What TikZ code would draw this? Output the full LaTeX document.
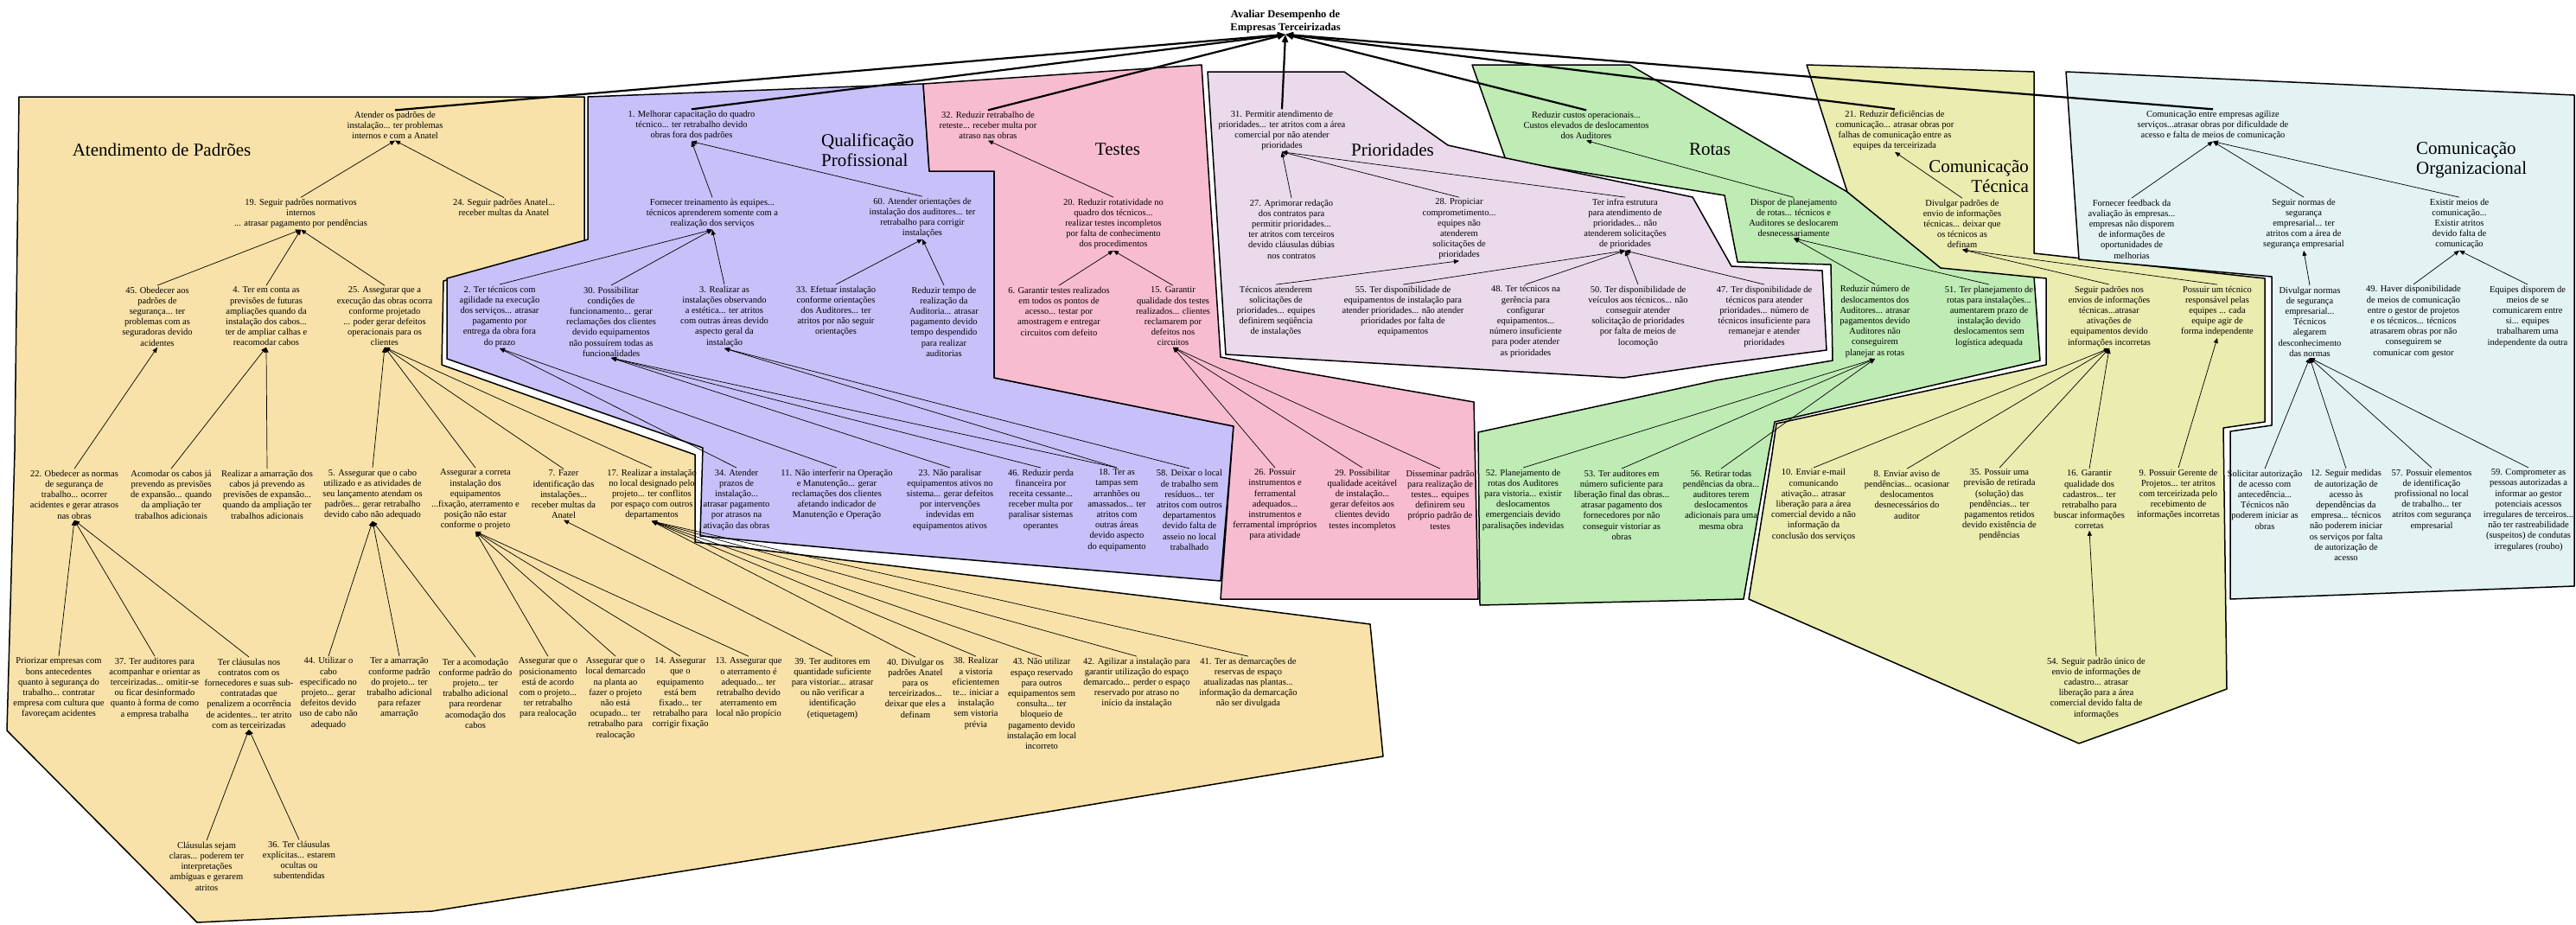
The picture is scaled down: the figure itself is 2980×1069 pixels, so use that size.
\documentclass[tikz,border=0pt]{standalone}
\usepackage{fontspec}
\setmainfont{Liberation Serif}
\usetikzlibrary{arrows.meta}

\definecolor{tanfill}{RGB}{248,226,169}
\definecolor{lavfill}{RGB}{200,192,248}
\definecolor{pinkfill}{RGB}{248,188,208}
\definecolor{priofill}{RGB}{234,218,236}
\definecolor{greenfill}{RGB}{191,235,181}
\definecolor{yelfill}{RGB}{234,236,176}
\definecolor{bluefill}{RGB}{227,242,242}

\tikzset{
  txt/.style={align=center, font=\fontsize{10.5}{12.2}\selectfont, inner sep=1.5pt},
  ttl/.style={font=\fontsize{21}{23}\selectfont, inner sep=0pt},
  lnk/.style={-{Triangle[length=6pt,width=5pt]}, line width=0.7pt},
  rootlnk/.style={-{Triangle[length=9pt,width=7pt]}, line width=2.2pt},
  region/.style={draw=black, line width=1.5pt, line join=round},
}

% outlines of the seven groups
\def\polyTan{(22,112) -- (676,112) -- (676,280) -- (513,325) -- (511,422) -- (804,526) -- (804,627) -- (995,650) -- (1412,700) -- (1585,722) -- (1600,875) -- (1490,893) -- (995,975) -- (500,1054) -- (228,1067) -- (8,845) -- (17,523) -- cycle}
\def\polyLav{(680,112) -- (1068,97) -- (1075,198) -- (1150,198) -- (1150,437) -- (1427,493) -- (1412,672) -- (995,637) -- (810,620) -- (813,518) -- (517,415) -- (517,322) -- (680,277) -- cycle}
\def\polyPink{(1068,97) -- (1390,75) -- (1412,413) -- (1485,427) -- (1705,465) -- (1710,693) -- (1412,693) -- (1427,493) -- (1150,437) -- (1150,198) -- (1075,198) -- cycle}
\def\polyPrio{(1397,83) -- (1555,83) -- (1675,168) -- (1738,182) -- (1958,228) -- (2003,308) -- (2108,313) -- (2113,405) -- (1980,422) -- (1878,437) -- (1418,410) -- cycle}
\def\polyGreen{(1703,75) -- (1885,75) -- (1985,133) -- (2137,222) -- (2245,307) -- (2353,320) -- (2360,417) -- (2053,488) -- (2046,525) -- (2017,693) -- (1712,700) -- (1710,500) -- (1985,440) -- (2120,417) -- (2118,306) -- (2010,303) -- (1995,226) -- (1742,185) -- cycle}
\def\polyYel{(2090,75) -- (2353,83) -- (2353,293) -- (2620,322) -- (2620,488) -- (2572,495) -- (2576,797) -- (2480,833) -- (2405,860) -- (2023,693) -- (2050,525) -- (2055,490) -- (2367,422) -- (2367,322) -- (2245,310) -- (2137,222) -- cycle}
\def\polyBlue{(2390,83) -- (2978,110) -- (2978,678) -- (2580,693) -- (2580,499) -- (2628,492) -- (2628,320) -- (2405,300) -- cycle}

\begin{document}
\begin{tikzpicture}[x=1pt, y=-1pt]
\useasboundingbox (0,0) rectangle (2980,1069);

% group areas
\draw[region, fill=tanfill] \polyTan;
\draw[region, fill=lavfill] \polyLav;
\draw[region, fill=pinkfill] \polyPink;
\draw[region, fill=greenfill] \polyGreen;
\draw[region, fill=priofill] \polyPrio;
\draw[region, fill=yelfill] \polyYel;
\draw[region, fill=bluefill] \polyBlue;

% group titles
\node[ttl] (tA) at (187,173) {Atendimento de Padrões};
\node[ttl, align=left, anchor=west] (tQ) at (950,174) {Qualificação\\Profissional};
\node[ttl] (tT) at (1293,173) {Testes};
\node[ttl] (tP) at (1611,173) {Prioridades};
\node[ttl] (tR) at (1978,173) {Rotas};
\node[ttl, align=right, anchor=east] (tC) at (2347,204) {Comunicação\\Técnica};
\node[ttl, align=left, anchor=west] (tO) at (2795,185) {Comunicação\\Organizacional};

% root
\node[txt, font=\fontsize{12.5}{15}\selectfont\bfseries] (root) at (1487,25) {Avaliar Desempenho de\\Empresas Terceirizadas};

% ---------- Atendimento de Padrões ----------
\node[txt] (A0) at (457,145) {Atender os padrões de\\instalação... ter problemas\\internos e com a Anatel};
\node[txt] (A19) at (348,247) {19. Seguir padrões normativos\\internos\\... atrasar pagamento por pendências};
\node[txt] (A24) at (583,240) {24. Seguir padrões Anatel...\\receber multas da Anatel};
\node[txt] (A45) at (182,366) {45. Obedecer aos\\padrões de\\segurança... ter\\problemas com as\\seguradoras devido\\acidentes};
\node[txt] (A4) at (308,366) {4. Ter em conta as\\previsões de futuras\\ampliações quando da\\instalação dos cabos...\\ter de ampliar calhas e\\reacomodar cabos};
\node[txt] (A25) at (445,366) {25. Assegurar que a\\execução das obras ocorra\\conforme projetado\\... poder gerar defeitos\\operacionais para os\\clientes};
\node[txt] (A22) at (86,572) {22. Obedecer as normas\\de segurança de\\trabalho... ocorrer\\acidentes e gerar atrasos\\nas obras};
\node[txt] (Aacom) at (198,572) {Acomodar os cabos já\\prevendo as previsões\\de expansão... quando\\da ampliação ter\\trabalhos adicionais};
\node[txt] (Aamar) at (309,572) {Realizar a amarração dos\\cabos já prevendo as\\previsões de expansão...\\quando da ampliação ter\\trabalhos adicionais};
\node[txt] (A5) at (431,572) {5. Assegurar que o cabo\\utilizado e as atividades de\\seu lançamento atendam os\\padrões... gerar retrabalho\\devido cabo não adequado};
\node[txt] (Acorr) at (550,578) {Assegurar a correta\\instalação dos\\equipamentos\\...fixação, aterramento e\\posição não estar\\conforme o projeto};
\node[txt] (A7) at (652,572) {7. Fazer\\identificação das\\instalações...\\receber multas da\\Anatel};
\node[txt] (A17) at (754,572) {17. Realizar a instalação\\no local designado pelo\\projeto... ter conflitos\\por espaço com outros\\departamentos};
\node[txt] (Aprio) at (68,796) {Priorizar empresas com\\bons antecedentes\\quanto à segurança do\\trabalho... contratar\\empresa com cultura que\\favoreçam acidentes};
\node[txt] (A37) at (179,796) {37. Ter auditores para\\acompanhar e orientar as\\terceirizadas... omitir-se\\ou ficar desinformado\\quanto à forma de como\\a empresa trabalha};
\node[txt] (Aclaus) at (288,802) {Ter cláusulas nos\\contratos com os\\fornecedores e suas sub-\\contratadas que\\penalizem a ocorrência\\de acidentes... ter atrito\\com as terceirizadas};
\node[txt] (A44) at (380,802) {44. Utilizar o\\cabo\\especificado no\\projeto... gerar\\defeitos devido\\uso de cabo não\\adequado};
\node[txt] (Aamarr) at (462,796) {Ter a amarração\\conforme padrão\\do projeto... ter\\trabalho adicional\\para refazer\\amarração};
\node[txt] (Aacomod) at (550,802) {Ter a acomodação\\conforme padrão do\\projeto... ter\\trabalho adicional\\para reordenar\\acomodação dos\\cabos};
\node[txt] (Apos) at (634,796) {Assegurar que o\\posicionamento\\está de acordo\\com o projeto...\\ter retrabalho\\para realocação};
\node[txt] (Alocal) at (712,808) {Assegurar que o\\local demarcado\\na planta ao\\fazer o projeto\\não está\\ocupado... ter\\retrabalho para\\realocação};
\node[txt] (A14) at (787,802) {14. Assegurar\\que o\\equipamento\\está bem\\fixado... ter\\retrabalho para\\corrigir fixação};
\node[txt] (A13) at (866,796) {13. Assegurar que\\o aterramento é\\adequado... ter\\retrabalho devido\\aterramento em\\local não propício};
\node[txt] (A39) at (963,796) {39. Ter auditores em\\quantidade suficiente\\para vistoriar... atrasar\\ou não verificar a\\identificação\\(etiquetagem)};
\node[txt] (A40) at (1059,796) {40. Divulgar os\\padrões Anatel\\para os\\terceirizados...\\deixar que eles a\\definam};
\node[txt] (A38) at (1129,802) {38. Realizar\\a vistoria\\eficientemen\\te... iniciar a\\instalação\\sem vistoria\\prévia};
\node[txt] (A43) at (1205,814) {43. Não utilizar\\espaço reservado\\para outros\\equipamentos sem\\consulta... ter\\bloqueio de\\pagamento devido\\instalação em local\\incorreto};
\node[txt] (A42) at (1315,790) {42. Agilizar a instalação para\\garantir utilização do espaço\\demarcado... perder o espaço\\reservado por atraso no\\início da instalação};
\node[txt] (A41) at (1444,790) {41. Ter as demarcações de\\reservas de espaço\\atualizadas nas plantas...\\informação da demarcação\\não ser divulgada};
\node[txt] (Acl1) at (239,1002) {Cláusulas sejam\\claras... poderem ter\\interpretações\\ambíguas e gerarem\\atritos};
\node[txt] (A36) at (346,995) {36. Ter cláusulas\\explícitas... estarem\\ocultas ou\\subentendidas};

% ---------- Qualificação Profissional ----------
\node[txt] (Q1) at (800,145) {1. Melhorar capacitação do quadro\\técnico... ter retrabalho devido\\obras fora dos padrões};
\node[txt] (Qforn) at (824,247) {Fornecer treinamento às equipes...\\técnicos aprenderem somente com a\\realização dos serviços};
\node[txt] (Q60) at (1067,252) {60. Atender orientações de\\instalação dos auditores... ter\\retrabalho para corrigir\\instalações};
\node[txt] (Q2) at (578,366) {2. Ter técnicos com\\agilidade na execução\\dos serviços... atrasar\\pagamento por\\entrega da obra fora\\do prazo};
\node[txt] (Q30) at (707,372) {30. Possibilitar\\condições de\\funcionamento... gerar\\reclamações dos clientes\\devido equipamentos\\não possuírem todas as\\funcionalidades};
\node[txt] (Q3) at (838,366) {3. Realizar as\\instalações observando\\a estética... ter atritos\\com outras áreas devido\\aspecto geral da\\instalação};
\node[txt] (Q33) at (967,360) {33. Efetuar instalação\\conforme orientações\\dos Auditores... ter\\atritos por não seguir\\orientações};
\node[txt] (Qred) at (1092,372) {Reduzir tempo de\\realização da\\Auditoria... atrasar\\pagamento devido\\tempo despendido\\para realizar\\auditorias};
\node[txt] (Q34) at (852,578) {34. Atender\\prazos de\\instalação...\\atrasar pagamento\\por atrasos na\\ativação das obras};
\node[txt] (Q11) at (968,572) {11. Não interferir na Operação\\e Manutenção... gerar\\reclamações dos clientes\\afetando indicador de\\Manutenção e Operação};
\node[txt] (Q23) at (1099,578) {23. Não paralisar\\equipamentos ativos no\\sistema... gerar defeitos\\por intervenções\\indevidas em\\equipamentos ativos};
\node[txt] (Q46) at (1204,578) {46. Reduzir perda\\financeira por\\receita cessante...\\receber multa por\\paralisar sistemas\\operantes};
\node[txt] (Q18) at (1292,590) {18. Ter as\\tampas sem\\arranhões ou\\amassados... ter\\atritos com\\outras áreas\\devido aspecto\\do equipamento};
\node[txt] (Q58) at (1376,590) {58. Deixar o local\\de trabalho sem\\resíduos... ter\\atritos com outros\\departamentos\\devido falta de\\asseio no local\\trabalhado};

% ---------- Testes ----------
\node[txt] (T32) at (1143,145) {32. Reduzir retrabalho de\\reteste... receber multa por\\atraso nas obras};
\node[txt] (T20) at (1288,259) {20. Reduzir rotatividade no\\quadro dos técnicos...\\realizar testes incompletos\\por falta de conhecimento\\dos procedimentos};
\node[txt] (T6) at (1225,360) {6. Garantir testes realizados\\em todos os pontos de\\acesso... testar por\\amostragem e entregar\\circuitos com defeito};
\node[txt] (T15) at (1357,366) {15. Garantir\\qualidade dos testes\\realizados... clientes\\reclamarem por\\defeitos nos\\circuitos};
\node[txt] (T26) at (1475,584) {26. Possuir\\instrumentos e\\ferramental\\adequados...\\instrumentos e\\ferramental impróprios\\para atividade};
\node[txt] (T29) at (1576,578) {29. Possibilitar\\qualidade aceitável\\de instalação...\\gerar defeitos aos\\clientes devido\\testes incompletos};
\node[txt] (Tdiss) at (1666,578) {Disseminar padrão\\para realização de\\testes... equipes\\definirem seu\\próprio padrão de\\testes};

% ---------- Prioridades ----------
\node[txt] (P31) at (1483,151) {31. Permitir atendimento de\\prioridades... ter atritos com a área\\comercial por não atender\\prioridades};
\node[txt] (P27) at (1494,265) {27. Aprimorar redação\\dos contratos para\\permitir prioridades...\\ter atritos com terceiros\\devido cláusulas dúbias\\nos contratos};
\node[txt] (P28) at (1688,265) {28. Propiciar\\comprometimento...\\equipes não\\atenderem\\solicitações de\\prioridades};
\node[txt] (Pinfra) at (1880,259) {Ter infra estrutura\\para atendimento de\\prioridades... não\\atenderem solicitações\\de prioridades};
\node[txt] (Ptec) at (1476,360) {Técnicos atenderem\\solicitações de\\prioridades... equipes\\definirem seqüência\\de instalações};
\node[txt] (P55) at (1623,360) {55. Ter disponibilidade de\\equipamentos de instalação para\\atender prioridades... não atender\\prioridades por falta de\\equipamentos};
\node[txt] (P48) at (1765,372) {48. Ter técnicos na\\gerência para\\configurar\\equipamentos...\\número insuficiente\\para poder atender\\as prioridades};
\node[txt] (P50) at (1895,366) {50. Ter disponibilidade de\\veículos aos técnicos... não\\conseguir atender\\solicitação de prioridades\\por falta de meios de\\locomoção};
\node[txt] (P47) at (2041,366) {47. Ter disponibilidade de\\técnicos para atender\\prioridades... número de\\técnicos insuficiente para\\remanejar e atender\\prioridades};

% ---------- Rotas ----------
\node[txt] (R0) at (1835,145) {Reduzir custos operacionais...\\Custos elevados de deslocamentos\\dos Auditores};
\node[txt] (Rdisp) at (2075,252) {Dispor de planejamento\\de rotas... técnicos e\\Auditores se deslocarem\\desnecessariamente};
\node[txt] (Rred) at (2169,372) {Reduzir número de\\deslocamentos dos\\Auditores... atrasar\\pagamentos devido\\Auditores não\\conseguirem\\planejar as rotas};
\node[txt] (R51) at (2301,366) {51. Ter planejamento de\\rotas para instalações...\\aumentarem prazo de\\instalação devido\\deslocamentos sem\\logística adequada};
\node[txt] (R52) at (1762,578) {52. Planejamento de\\rotas dos Auditores\\para vistoria... existir\\deslocamentos\\emergenciais devido\\paralisações indevidas};
\node[txt] (R53) at (1876,584) {53. Ter auditores em\\número suficiente para\\liberação final das obras...\\atrasar pagamento dos\\fornecedores por não\\conseguir vistoriar as\\obras};
\node[txt] (R56) at (1991,578) {56. Retirar todas\\pendências da obra...\\auditores terem\\deslocamentos\\adicionais para uma\\mesma obra};

% ---------- Comunicação Técnica ----------
\node[txt] (C21) at (2192,151) {21. Reduzir deficiências de\\comunicação... atrasar obras por\\falhas de comunicação entre as\\equipes da terceirizada};
\node[txt] (Cdiv) at (2270,259) {Divulgar padrões de\\envio de informações\\técnicas... deixar que\\os técnicos as\\definam};
\node[txt] (Cseg) at (2440,366) {Seguir padrões nos\\envios de informações\\técnicas...atrasar\\ativações de\\equipamentos devido\\informações incorretas};
\node[txt] (Cposs) at (2565,360) {Possuir um técnico\\responsável pelas\\equipes ... cada\\equipe agir de\\forma independente};
\node[txt] (C10) at (2098,584) {10. Enviar e-mail\\comunicando\\ativação... atrasar\\liberação para a área\\comercial devido a não\\informação da\\conclusão dos serviços};
\node[txt] (C8) at (2206,572) {8. Enviar aviso de\\pendências... ocasionar\\deslocamentos\\desnecessários do\\auditor};
\node[txt] (C35) at (2313,584) {35. Possuir uma\\previsão de retirada\\(solução) das\\pendências... ter\\pagamentos retidos\\devido existência de\\pendências};
\node[txt] (C16) at (2417,578) {16. Garantir\\qualidade dos\\cadastros... ter\\retrabalho para\\buscar informações\\corretas};
\node[txt] (C9) at (2520,572) {9. Possuir Gerente de\\Projetos... ter atritos\\com terceirizada pelo\\recebimento de\\informações incorretas};
\node[txt] (C54) at (2425,796) {54. Seguir padrão único de\\envio de informações de\\cadastro... atrasar\\liberação para a área\\comercial devido falta de\\informações};

% ---------- Comunicação Organizacional ----------
\node[txt] (O0) at (2560,145) {Comunicação entre empresas agilize\\serviços...atrasar obras por dificuldade de\\acesso e falta de meios de comunicação};
\node[txt] (Oforn) at (2466,265) {Fornecer feedback da\\avaliação às empresas...\\empresas não disporem\\de informações de\\oportunidades de\\melhorias};
\node[txt] (Oseg) at (2665,259) {Seguir normas de\\segurança\\empresarial... ter\\atritos com a área de\\segurança empresarial};
\node[txt] (Oexist) at (2845,259) {Existir meios de\\comunicação...\\Existir atritos\\devido falta de\\comunicação};
\node[txt] (Odiv) at (2672,372) {Divulgar normas\\de segurança\\empresarial...\\Técnicos\\alegarem\\desconhecimento\\das normas};
\node[txt] (O49) at (2792,372) {49. Haver disponibilidade\\de meios de comunicação\\entre o gestor de projetos\\e os técnicos... técnicos\\atrasarem obras por não\\conseguirem se\\comunicar com gestor};
\node[txt] (Oequip) at (2924,366) {Equipes disporem de\\meios de se\\comunicarem entre\\si... equipes\\trabalharem uma\\independente da outra};
\node[txt] (Osol) at (2620,578) {Solicitar autorização\\de acesso com\\antecedência...\\Técnicos não\\poderem iniciar as\\obras};
\node[txt] (O12) at (2714,596) {12. Seguir medidas\\de autorização de\\acesso às\\dependências da\\empresa... técnicos\\não poderem iniciar\\os serviços por falta\\de autorização de\\acesso};
\node[txt] (O57) at (2813,578) {57. Possuir elementos\\de identificação\\profissional no local\\de trabalho... ter\\atritos com segurança\\empresarial};
\node[txt] (O59) at (2925,590) {59. Comprometer as\\pessoas autorizadas a\\informar ao gestor\\potenciais acessos\\irregulares de terceiros...\\não ter rastreabilidade\\(suspeitos) de condutas\\irregulares (roubo)};

% ---------- connectors ----------
\foreach \c/\p in {A19/A0, A24/A0, A45/A19, A4/A19, A25/A19, A22/A45, Aacom/A4, Aamar/A4,
  A5/A25, Acorr/A25, A7/A25, A17/A25, Aprio/A22, A37/A22, Aclaus/A22, Acl1/Aclaus, A36/Aclaus,
  A44/A5, Aamarr/A5, Aacomod/A5, Apos/Acorr, Alocal/Acorr, A14/Acorr, A13/Acorr, A39/A7,
  A40/A17, A38/A17, A43/A17, A42/A17, A41/A17,
  Qforn/Q1, Q60/Q1, Q2/Qforn, Q30/Qforn, Q3/Qforn, Q33/Q60, Qred/Q60,
  Q34/Q2, Q11/Q2, Q23/Q30, Q46/Q30, Q18/Q30, Q18/Q3, Q58/Q3,
  T20/T32, T6/T20, T15/T20, T26/T15, T29/T15, Tdiss/T15,
  P27/P31, P28/P31, Pinfra/P31, Ptec/P28, P55/Pinfra, P48/Pinfra, P50/Pinfra, P47/Pinfra,
  Rdisp/R0, Rred/Rdisp, R51/Rdisp, R52/Rred, R53/Rred, R56/Rred,
  Cdiv/C21, Cseg/Cdiv, Cposs/Cdiv, C10/Cseg, C8/Cseg, C35/Cseg, C16/Cseg, C9/Cposs, C54/C16,
  Oforn/O0, Oseg/O0, Oexist/O0, Odiv/Oseg, O49/Oexist, Oequip/Oexist,
  Osol/Odiv, O12/Odiv, O57/Odiv, O59/Odiv}{
  \draw[lnk] (\c.north) -- (\p.south);
}

% links to the main goal
\foreach \c in {A0, Q1, T32, P31, R0, C21, O0}{
  \draw[rootlnk] (\c.north) -- (root.south);
}
\end{tikzpicture}
\end{document}
